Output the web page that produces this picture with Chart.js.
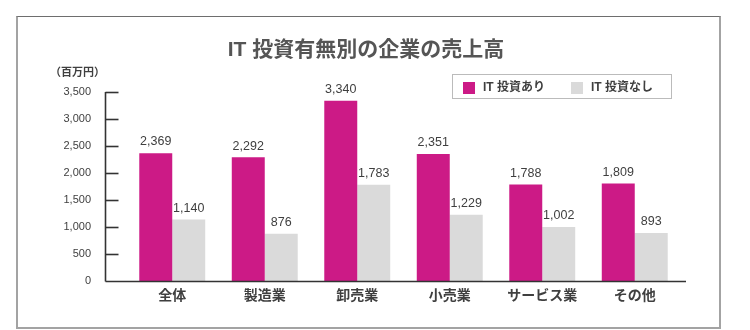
<!DOCTYPE html>
<html>
<head>
<meta charset="utf-8">
<script src="https://cdn.jsdelivr.net/npm/chart.js@4.4.1/dist/chart.umd.min.js"></script>
<style>
  html, body { margin: 0; padding: 0; background: #fff; }
  .wrap { position: relative; width: 750px; height: 330px; overflow: hidden; }
  .frame {
    position: absolute; left: 16px; top: 16px; width: 701px; height: 310px;
    border: 2px solid #a3a3a3; border-top: 1px solid #6e6e6e;
    pointer-events: none;
  }
  canvas { position: absolute; left: 0; top: 0; }
</style>
</head>
<body>
<div class="wrap">
  <div class="frame"></div>
  <canvas class="js-chart" width="750" height="330"></canvas>
</div>
<script>
const titleText = 'IT 投資有無別の企業の売上高';
const unitText = '（百万円）';
const categories = ['全体', '製造業', '卸売業', '小売業', 'サービス業', 'その他'];
const seriesNames = ['IT 投資あり', 'IT 投資なし'];
const withIT = [2369, 2292, 3340, 2351, 1788, 1809];
const withoutIT = [1140, 876, 1783, 1229, 1002, 893];
const yMax = 3500;
const yStep = 500;

const magenta = '#cc1a86';
const lightGrey = '#dadada';
const textColor = '#3f3f3f';
const fontFamily = '"Liberation Sans", Arial, "Noto Sans CJK JP", sans-serif';

const fmt = (v) => v.toLocaleString('en-US');

// axes, value labels, unit, title and the dotted legend box
const extras = {
  id: 'extras',
  afterDraw(chart) {
    const ctx = chart.ctx;
    const area = chart.chartArea;
    const y = chart.scales.y;
    const axisX = Math.round(area.left - 21) + 0.5;
    const y0 = Math.round(y.getPixelForValue(0)) + 0.5;
    const yTop = y.getPixelForValue(yMax);

    ctx.save();
    ctx.globalAlpha = 1;
    ctx.globalCompositeOperation = 'source-over';
    ctx.setLineDash([]);
    ctx.lineDashOffset = 0;
    ctx.strokeStyle = '#333333';
    ctx.lineWidth = 1.6;
    ctx.lineCap = 'butt';

    ctx.beginPath();
    ctx.moveTo(axisX, yTop);
    ctx.lineTo(axisX, y0);
    ctx.stroke();

    ctx.beginPath();
    ctx.moveTo(axisX, y0);
    ctx.lineTo(area.right + 5, y0);
    ctx.stroke();

    // tick marks point inward
    for (const t of y.ticks) {
      if (t.value === 0) continue;
      const py = Math.round(y.getPixelForValue(t.value)) + 0.5;
      ctx.beginPath();
      ctx.moveTo(axisX, py);
      ctx.lineTo(axisX + 13, py);
      ctx.stroke();
    }

    // values above bars
    ctx.fillStyle = textColor;
    ctx.font = '12.5px ' + fontFamily;
    ctx.textAlign = 'center';
    ctx.textBaseline = 'bottom';
    chart.data.datasets.forEach((ds, i) => {
      chart.getDatasetMeta(i).data.forEach((bar, j) => {
        ctx.fillText(fmt(ds.data[j]), bar.x, bar.y - 5);
      });
    });

    // title
    ctx.fillStyle = '#555';
    ctx.font = 'bold 21px ' + fontFamily;
    ctx.textBaseline = 'middle';
    ctx.fillText(titleText, 366, 50);

    // unit
    ctx.fillStyle = textColor;
    ctx.font = 'bold 11px ' + fontFamily;
    ctx.textAlign = 'left';
    ctx.fillText(unitText, 50, 73);

    // legend
    ctx.setLineDash([1, 1]);
    ctx.strokeStyle = '#777';
    ctx.lineWidth = 1;
    ctx.strokeRect(452.5, 74.5, 219, 24);
    ctx.setLineDash([]);
    ctx.font = 'bold 12px ' + fontFamily;
    let lx = 463;
    chart.data.datasets.forEach((ds) => {
      ctx.fillStyle = ds.backgroundColor;
      ctx.fillRect(lx, 82, 12, 12);
      ctx.fillStyle = textColor;
      ctx.fillText(ds.label, lx + 20, 88);
      lx += 20 + ctx.measureText(ds.label).width + 26;
    });
    ctx.restore();
  },
};

const createChart = function () {
  const canvas = document.querySelector('.js-chart');
  return new Chart(canvas, {
    type: 'bar',
    data: {
      labels: categories,
      datasets: [
        { label: seriesNames[0], data: withIT, backgroundColor: magenta },
        { label: seriesNames[1], data: withoutIT, backgroundColor: lightGrey },
      ],
    },
    options: {
      responsive: false,
      animation: false,
      devicePixelRatio: 1,
      layout: {
        padding: { top: 92, right: 69, bottom: 18, left: 0 },
      },
      datasets: {
        bar: { categoryPercentage: 0.713, barPercentage: 1.0 },
      },
      plugins: {
        legend: { display: false },
        title: { display: false },
        tooltip: { enabled: false },
      },
      scales: {
        x: {
          grid: { display: false, drawTicks: false },
          border: { display: false },
          ticks: {
            padding: 7,
            color: textColor,
            font: { family: fontFamily, size: 14, weight: 'bold' },
          },
        },
        y: {
          min: 0,
          max: yMax,
          afterFit(scale) {
            scale.width = 126;
          },
          grid: { display: false, drawTicks: false },
          border: { display: false },
          ticks: {
            stepSize: yStep,
            padding: 35,
            color: textColor,
            font: { family: fontFamily, size: 11 },
            callback: (v) => fmt(v),
          },
        },
      },
    },
    plugins: [extras],
  });
};

document.addEventListener('DOMContentLoaded', createChart);
</script>
</body>
</html>
